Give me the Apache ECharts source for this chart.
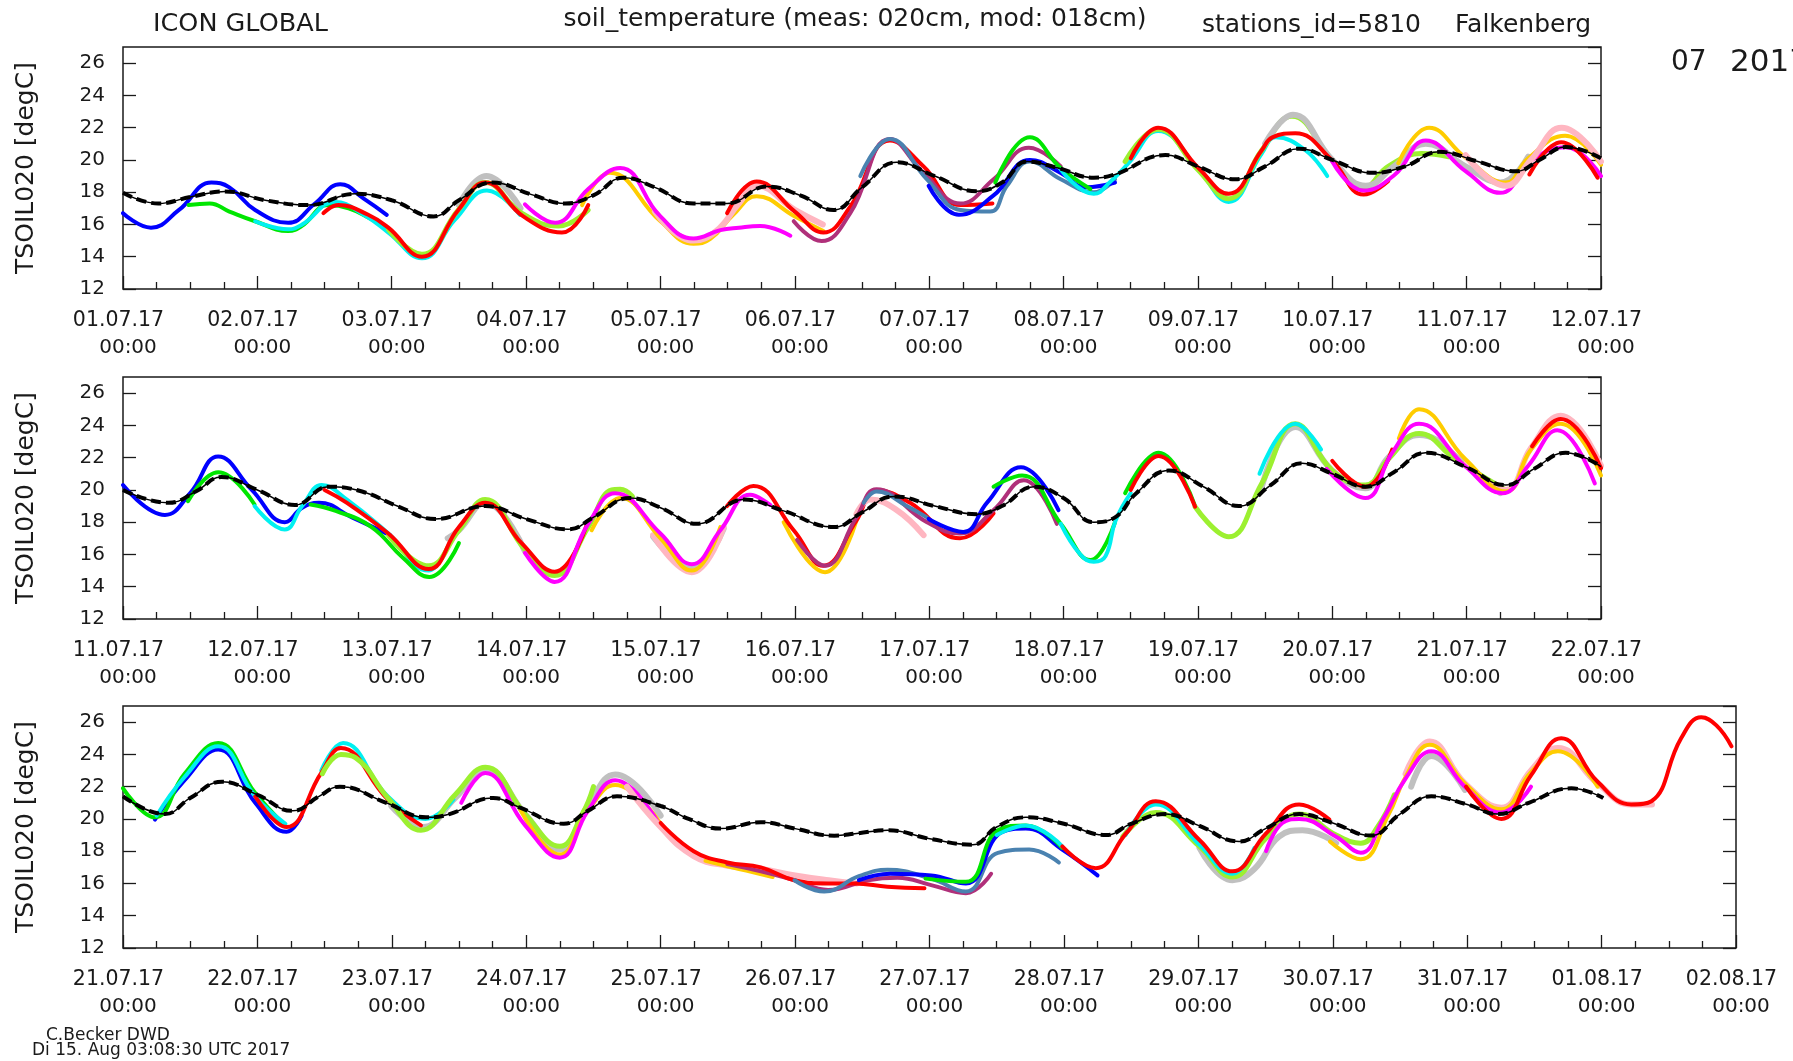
<!DOCTYPE html>
<html><head><meta charset="utf-8">
<script src="https://cdn.jsdelivr.net/npm/echarts@6/dist/echarts.min.js"></script>
<style>html,body{margin:0;padding:0;background:#fff}#c{width:1793px;height:1061px}</style>
</head><body><div id="c"></div>
<script>
// ---------- DATA (hours since panel start, degC) ----------
const p1Ticks = ['01.07.17','02.07.17','03.07.17','04.07.17','05.07.17','06.07.17','07.07.17','08.07.17','09.07.17','10.07.17','11.07.17','12.07.17'];
const p2Ticks = ['11.07.17','12.07.17','13.07.17','14.07.17','15.07.17','16.07.17','17.07.17','18.07.17','19.07.17','20.07.17','21.07.17','22.07.17'];
const p3Ticks = ['21.07.17','22.07.17','23.07.17','24.07.17','25.07.17','26.07.17','27.07.17','28.07.17','29.07.17','30.07.17','31.07.17','01.08.17','02.08.17'];
const yTicks = [12,14,16,18,20,22,24,26];

const p1Obs = [[0,17.96],[6.3,17.3],[12,17.7],[18.2,18.05],[25.4,17.5],[33.1,17.2],[41.5,17.9],[48,17.5],[55.5,16.5],[60,17.5],[65.9,18.6],[73,17.85],[79,17.3],[84,17.8],[89.4,18.9],[95,18.3],[101.9,17.3],[107.9,17.3],[115,18.35],[121,17.8],[126.9,16.9],[132,18.3],[138.2,19.85],[145,19.0],[152.5,18.06],[157,18.6],[161.5,19.9],[167,19.5],[173.4,18.9],[177.2,19.1],[186.2,20.3],[192,19.6],[198.7,18.8],[204,19.6],[210.1,20.7],[216,20.0],[223.2,19.2],[229,19.6],[235.1,20.5],[242,19.9],[248.8,19.3],[253,20.0],[257.7,20.8],[264,20.1]];
const p2Obs = [[0,20.0],[8.1,19.2],[13,19.9],[17.6,20.8],[24,20.0],[30.7,19.07],[36.7,20.2],[42.7,19.9],[49,19.0],[55.8,18.2],[64.7,19.0],[72,18.2],[79.6,17.56],[84,18.3],[90.6,19.5],[96,18.9],[102.5,17.9],[110.9,19.4],[118,18.7],[127,17.7],[132,18.6],[137.7,19.6],[145,19.0],[152.5,18.5],[157,19.0],[162.7,20.2],[168,19.5],[173.4,18.0],[177.2,18.3],[181,19.8],[186.8,21.2],[193,20.2],[199.3,19.0],[205,20.3],[210.6,21.65],[216,21.0],[221.9,20.2],[227,21.1],[232.7,22.3],[240,21.4],[247,20.3],[252,21.3],[257.7,22.3],[264,21.45]];
const p3Obs = [[0,21.4],[7.5,20.3],[12,21.3],[17.7,22.3],[24,21.5],[30.3,20.5],[35,21.4],[38.7,22.0],[47,21.0],[54.1,20.1],[58.3,20.3],[66.1,21.3],[70.9,20.7],[78.7,19.7],[83,20.5],[88.2,21.4],[96,20.8],[101,20.0],[106.7,19.4],[113.9,19.8],[120,19.4],[127,18.96],[131,19.1],[136.5,19.3],[144.3,18.75],[151.7,18.4],[156,19.5],[161.2,20.1],[168,19.7],[175.5,19.0],[180,19.7],[186.2,20.3],[192,19.6],[199.3,18.6],[204,19.4],[210,20.3],[216,19.75],[222.8,18.97],[228,20.3],[233.6,21.4],[240,20.9],[245.5,20.3],[251,21.0],[258.6,21.9],[264.3,21.3]];

const p1Runs = [
  [[0,16.7],[5,15.8],[10,16.9],[15.8,18.6],[19,18.3],[23.6,16.9],[29.5,16.1],[34.3,17.3],[38.8,18.5],[43,17.6],[47.1,16.6]],
  [[11.7,17.2],[15.5,17.3],[19,16.8],[23.6,16.2],[29.5,15.6],[31.9,15.9],[36.7,17.2],[40.3,17.0],[44,16.4],[47.4,15.7]],
  [[23.6,16.2],[29.5,15.7],[32,16.0],[37.9,17.4],[43,16.6],[47.4,15.5],[53.4,13.9],[59.3,16.3],[65,18.1],[70.9,16.6]],
  [[60,17.2],[64.9,19.0],[71,17.0]],
  [[47.4,15.7],[53.4,14.15],[59.9,16.9],[64.7,18.6],[71.2,16.7],[77.8,15.9],[83.1,16.9]],
  [[35.8,16.7],[38.5,17.2],[43.8,16.6],[47.4,15.8],[53.4,14.0],[59.9,16.9],[64.7,18.6],[71.5,16.5],[78.4,15.5],[83.1,17.2]],
  [[82,17.2],[87,19.2],[96,16.2],[101.9,14.8],[104.9,15.1],[109,16.6],[113.2,17.75],[120,16.5],[125.1,15.6]],
  [[95,16.8],[101.9,15.0],[106,15.6],[110,17.3],[113.2,18.4],[120,16.9],[125,16.0]],
  [[71.8,17.25],[77.2,16.1],[83.1,18.2],[88.8,19.5],[96,16.5],[101.9,15.13],[106.7,15.65],[110,15.8],[113.8,15.9],[119.2,15.3]],
  [[107.9,16.7],[113.2,18.66],[120,16.8],[125.1,15.5],[129.9,17.1],[137,21.2],[143,19.6],[149.6,17.2],[155.3,17.3]],
  [[119.8,16.2],[124.8,14.97],[129.9,16.7],[137,21.3],[143,19.2],[149.6,17.3],[155.5,18.8],[161.8,20.75],[167.5,19.6]],
  [[131.7,19.0],[137,21.3],[143.6,18.8],[149.6,16.9],[154.9,16.8],[157.9,18.4],[162,19.9],[167.5,18.8],[173.4,18.0],[177.2,18.8]],
  [[143.9,18.4],[149.3,16.6],[155.5,17.8],[162,20.0],[167.5,19.2],[172,18.3],[177.2,18.6]],
  [[155.8,18.6],[162,21.4],[167.5,19.5],[172.8,18.2]],
  [[167.5,19.4],[173.4,17.9],[176.5,18.7],[179.6,19.8],[184.9,21.8],[192.1,19.4],[197.5,17.4],[203.4,20.4],[205.9,21.4],[211.2,20.6],[215.1,19.0]],
  [[179,19.9],[184.9,21.9],[192,19.4],[197.5,17.6],[203.4,20.6],[208.8,22.7],[216,20.0],[221.6,18.3],[226,19.6],[232,20.4],[236.8,20.2]],
  [[204,21.0],[209,22.8],[216,20.0],[222,18.4],[227,19.6],[232.7,21.0],[239.8,19.6],[246,18.6],[251,20.2]],
  [[180,20.1],[184.9,22.0],[192.1,19.5],[197.5,17.9],[203.4,20.6],[205.3,21.4],[209.4,21.65],[215.9,20.0],[221.6,17.85],[226,18.7]],
  [[216,19.9],[221.6,18.1],[227.2,19.1],[232.7,21.2],[239.8,19.3],[246,17.96],[251.7,20.0],[257.7,20.78],[264,19.0]],
  [[227.8,19.8],[233.3,22.0],[239.8,20.15],[247,18.6],[251,20.1],[257.6,21.5],[264,19.7]],
  [[239.8,20.3],[247,18.4],[251.5,20.0],[257,22.0],[264,19.9]],
  [[251.2,19.1],[256.9,21.1],[263.4,18.9]]
];
const p1Colors = ['blue','green','cyan','gray','lime','red','gold','pink','magenta','red','purple','steel','blue','green','cyan','lime','gray','red','magenta','gold','pink','red'];

const p2Runs = [
  [[0,20.3],[7.5,18.45],[12,19.8],[17,22.07],[23,20.0],[28.9,18.0],[32,18.9],[35,19.2],[40.9,18.3],[47.7,17.2]],
  [[11.6,19.3],[17,21.1],[23.5,19.1]],
  [[23.5,19.0],[28.9,17.55],[32,19.0],[35.5,20.3],[40,19.4],[47.4,17.3],[54.6,15.0],[56,15.3]],
  [[33.5,19.1],[38,18.7],[44.4,17.7],[50,15.8],[54.7,14.6],[60,16.7]],
  [[58,17.0],[60,17.5],[64.7,19.2],[71.8,16.2]],
  [[47.4,17.2],[54.6,15.3],[60,17.5],[64.7,19.4],[71.8,16.3],[77.1,14.7],[83.1,17.7],[87.3,20.0],[88.8,20.04],[91,19.6]],
  [[36,20.0],[40,19.2],[47.4,17.3],[54.6,15.1],[60,17.7],[64.7,19.2],[71.2,16.7],[77.1,14.93],[82.9,17.9]],
  [[94.7,17.1],[101.6,15.2],[107.3,17.6]],
  [[94.7,17.2],[101.6,14.9],[107.3,17.7]],
  [[83.7,17.5],[88.9,19.5],[96,17.0],[101.6,15.0],[106.7,17.7]],
  [[71.8,16.1],[77.1,14.3],[83.1,17.9],[87.9,19.8],[96,17.3],[101.6,15.4],[106.7,17.5],[112,19.7],[115.6,19.07]],
  [[118,18.0],[125.4,14.9],[131,18.1]],
  [[107.9,19.0],[112.6,20.25],[119.8,17.5],[125.1,15.3],[131,18.1],[134.6,20.0],[140.6,19.2],[149.5,17.0],[155.5,18.55]],
  [[131,18.5],[133.5,19.4],[138,18.8],[143,17.2]],
  [[120.4,16.9],[125.4,15.3],[131,18.3],[134.6,20.04],[143.6,18.0],[149.5,17.3],[155.5,18.75],[160.9,20.6],[166.8,17.9]],
  [[132.3,19.2],[134.6,19.9],[140,19.0],[143.6,18.3]],
  [[143.9,18.2],[150.1,17.4],[154.3,19.2],[160.4,21.4],[167.1,18.75]],
  [[155.5,20.2],[160.6,20.9],[167.5,17.9],[172.8,15.65],[177.2,18.0]],
  [[167.5,17.9],[171,16.0],[173.4,15.55],[175.5,15.9],[177.3,18.1],[180,19.8]],
  [[179,19.8],[185,22.3],[191.5,19.0]],
  [[203.4,20.2],[209.4,23.9],[216,21.2],[221.9,20.1],[226,22],[231.5,23.4],[239.8,21.6],[246,19.8]],
  [[191.5,18.96],[197.5,17.1],[203.4,20.4],[209.4,24.1],[216,21.2],[221.9,20.3],[226,21.9],[231.5,23.5],[238,21.9],[247,20.0]],
  [[180,20.0],[185,22.1],[191.5,18.96]],
  [[203,21.0],[209.4,24.1],[214,22.5]],
  [[216,21.8],[221.9,20.2],[226.7,22.5]],
  [[239.8,21.6],[247,20.0],[251.5,22.6],[256.8,24.6],[264,21.5]],
  [[227.9,23.2],[231.5,25.0],[239.8,21.9],[247,19.9],[251.5,22.5],[256.8,24.1],[264,20.9]],
  [[215,21.3],[221.9,19.5],[226.7,22.3],[231.5,24.1],[239.8,21.45],[246.4,19.8],[251,21.5],[256.2,23.7],[262.9,20.4]],
  [[251.7,22.7],[256.8,24.4],[264,21.35]]
];
const p2Colors = ['blue','green','cyan','green','gray','lime','red','gray','pink','gold','magenta','gold','red','pink','purple','steel','blue','green','cyan','green','gray','lime','red','cyan','red','pink','gold','magenta','red'];

const p3Runs = [
  [[5.7,19.96],[11,22.4],[17,24.3],[23.6,21.0],[29.2,19.2],[31.9,20.2]],
  [[0,21.9],[5.7,20.1],[11,22.8],[17,24.7],[23.6,21.6],[28.9,19.6]],
  [[6,20.2],[11,22.6],[17,24.5],[23.6,21.4],[29,19.7]],
  [[47.9,20.8],[53.5,19.5],[59.3,21.3],[64.7,23.1],[71.8,20.3],[78,18.1],[83,20.8],[87.9,22.75],[96,20.2]],
  [[35.4,23.0],[39.3,24.7],[47.3,21.4],[54,20.0],[59,21.2]],
  [[23.6,21.4],[29.2,19.5],[35.4,22.85],[38.9,24.4],[47.3,21.2],[53.2,19.6]],
  [[35.6,22.8],[38.9,24.0],[41.5,23.8],[47.3,21.3],[53.2,19.3],[59.3,21.5],[64.7,23.2],[71.8,20.3],[78,18.3],[82,20.3],[84,22.0]],
  [[70.9,20.6],[78,17.8],[83,20.5],[87.9,22.1],[96,19.7]],
  [[60.4,21.0],[64.7,22.85],[71.8,19.6],[78,17.6],[83,20.5],[87.9,22.4],[96,19.5]],
  [[90,22.0],[96,19.5],[101.9,17.7],[107.9,17.1],[113.9,16.9],[120,16.5],[126,16.2],[131,16.0]],
  [[104,17.4],[110,16.9],[116,16.4]],
  [[107.9,17.2],[113.9,16.75],[119.9,16.2],[125.9,15.6],[133,16.2],[138.3,16.35],[144.3,15.9],[150.5,15.4],[155,16.6]],
  [[96,19.75],[101.9,18.0],[107.9,17.3],[113.9,17.0],[119.9,16.2],[125.9,16.0],[130.6,16.0],[136.5,15.8],[143.1,15.7]],
  [[119.9,16.2],[125.2,15.5],[131.4,16.45],[136.5,16.85],[144.3,16.3],[150.5,15.5],[156.2,17.9],[161.8,18.1],[167.1,17.3]],
  [[131.4,16.2],[137,16.6],[144.3,16.5],[150.5,16.0],[157,19.2],[161.2,19.4],[167.7,18.1],[174,16.5]],
  [[143.3,16.3],[150.5,16.1],[156.2,19.3],[161.2,19.6],[167.7,18.2]],
  [[156,19.0],[161.2,19.6],[167.7,18.3]],
  [[192.2,18.2],[198.1,16.2],[202,16.9],[206.4,18.9],[210.6,19.3],[216.6,18.5]],
  [[178.5,18.9],[184.4,20.4],[192.2,18.3],[198.1,16.4],[204.1,18.8],[210,20.3],[216.6,19.0],[221,18.5],[224,19.5],[227,21.5]],
  [[179,19.0],[184.4,20.9],[192.2,18.4],[198.1,16.6],[202,18.2]],
  [[167.7,18.3],[173.7,16.95],[179.1,19.1],[184.4,21.1],[192.2,18.7],[198.1,16.75],[204.1,19.1],[210,20.9],[215.4,19.96]],
  [[229,22.8],[233.3,24.8],[239.6,22.2],[246.1,20.7],[251.4,23],[256.2,24.4],[263.3,22.2],[269.3,20.9],[273,20.9]],
  [[230,22.0],[233.6,23.9],[239.6,21.8]],
  [[215.5,18.6],[221,17.5],[226,20.3],[229,22.6],[233.3,24.6],[239.6,22.2],[246.1,20.6],[251.4,22.9],[256.2,24.2],[263.3,22.0]],
  [[204.1,18.0],[207,19.75],[210,20.0],[216.6,18.9],[221,17.9],[225,20.0],[229,22.5],[233.6,24.2],[239.6,22.0],[246,20.4],[251.4,22.0]],
  [[239.8,22.0],[246.1,20.0],[251.4,22.7],[256.8,25.0],[263.3,22.3],[269.3,20.9],[272.9,21.1],[278.2,25.0],[281.8,26.3],[284.5,25.8],[287.2,24.5]]
];
const p3Colors = ['blue','green','cyan','gray','cyan','red','lime','gold','magenta','pink','gold','purple','red','steel','blue','green','cyan','gray','lime','cyan','red','pink','gray','gold','magenta','red'];

// ---------- STYLE ----------
const FONT = 'DejaVu Sans';
const INK = '#1a1a1a';
const COLOR = {blue:'#0000ff', green:'#00e600', cyan:'#00f0f0', red:'#ff0000', lime:'#9cf030', gray:'#c0c0c0', magenta:'#ff00ff', gold:'#ffcc00', pink:'#ffb6c1', purple:'#b0307a', steel:'#4a82b0'};
const WIDTH = {gray:6, pink:6, lime:5};

const panels = [
  {ticks:p1Ticks, runs:p1Runs, colors:p1Colors, obs:p1Obs, top:47, width:1478},
  {ticks:p2Ticks, runs:p2Runs, colors:p2Colors, obs:p2Obs, top:377, width:1478},
  {ticks:p3Ticks, runs:p3Runs, colors:p3Colors, obs:p3Obs, top:706, width:1613}
];

const grid = [], xAxis = [], yAxis = [], series = [], graphic = [];
panels.forEach((p, i) => {
  grid.push({left:123, top:p.top, width:p.width, height:242, show:true, borderColor:INK, borderWidth:1.5, backgroundColor:'transparent'});
  xAxis.push({
    type:'value', gridIndex:i, min:0, max:(p.ticks.length-1)*24, interval:24,
    axisLine:{show:false}, splitLine:{show:false},
    axisTick:{inside:true, length:13, lineStyle:{color:INK, width:1.3}},
    minorTick:{show:true, splitNumber:4, length:7, lineStyle:{color:INK, width:1.3}},
    axisLabel:{fontFamily:FONT, fontSize:20, color:INK, lineHeight:27, margin:18,
      formatter:(v)=> '{d|' + p.ticks[Math.round(v/24)] + '}\n{t|00:00}',
      rich:{
        d:{fontFamily:FONT, fontSize:20.5, color:INK, lineHeight:27, padding:[0,9,0,0]},
        t:{fontFamily:FONT, fontSize:20, color:INK, lineHeight:27, padding:[0,0,0,10]}
      }}
  });
  yAxis.push({
    type:'value', gridIndex:i, min:yTicks[0], max:27, interval:2,
    axisLine:{show:false}, splitLine:{show:false},
    axisTick:{inside:true, length:13, lineStyle:{color:INK, width:1.3}},
    axisLabel:{fontFamily:FONT, fontSize:20, color:INK, margin:18, showMaxLabel:false,
      formatter:(v)=> yTicks.indexOf(v) >= 0 ? String(v) : ''}
  });
  yAxis.push({
    type:'value', gridIndex:i, position:'right', min:yTicks[0], max:27, interval:2,
    axisLine:{show:false}, splitLine:{show:false},
    axisTick:{inside:true, length:13, lineStyle:{color:INK, width:1.3}},
    axisLabel:{show:false}
  });
  p.runs.forEach((run, r) => {
    const c = p.colors[r];
    series.push({type:'line', xAxisIndex:i, yAxisIndex:2*i, data:run, smooth:0.45,
      showSymbol:false, symbol:'none', silent:true, z:2,
      lineStyle:{color:COLOR[c], width:WIDTH[c] || 4, cap:'round', join:'round'}});
  });
  series.push({type:'line', xAxisIndex:i, yAxisIndex:2*i, data:p.obs, smooth:0.45,
    showSymbol:false, symbol:'none', silent:true, z:3, lineStyle:{color:'#000', width:1.5}});
  series.push({type:'line', xAxisIndex:i, yAxisIndex:2*i, data:p.obs, smooth:0.45,
    showSymbol:false, symbol:'none', silent:true, z:4, lineStyle:{color:'#000', width:4, type:[10,5]}});
  graphic.push({type:'text', x:26, y:p.top+121, rotation:Math.PI/2,
    style:{text:'TSOIL020 [degC]', font:'25px "DejaVu Sans"', fill:INK,
      textAlign:'center', textVerticalAlign:'middle', align:'center', verticalAlign:'middle'}});
});

const hdr = (text, x, y, size, align) => ({type:'text', x:x, y:y,
  style:{text:text, font:size+'px "DejaVu Sans"', fill:INK, textAlign:align||'left', textVerticalAlign:'middle', align:align||'left', verticalAlign:'middle'}});
graphic.push(hdr('ICON GLOBAL', 153, 24, 25.5));
graphic.push(hdr('soil_temperature (meas: 020cm, mod: 018cm)', 855, 19, 25, 'center'));
graphic.push(hdr('stations_id=5810', 1202, 25, 25));
graphic.push(hdr('Falkenberg', 1455, 25, 25));
graphic.push(hdr('07', 1671, 63, 28));
graphic.push(hdr('2017', 1730, 63, 31));
graphic.push(hdr('C.Becker DWD', 46, 1036, 17));
graphic.push(hdr('Di 15. Aug 03:08:30 UTC 2017', 32, 1051, 17));

const chart = echarts.init(document.getElementById('c'), null, {renderer:'canvas'});
chart.setOption({animation:false, backgroundColor:'#fff', grid, xAxis, yAxis, series, graphic});
</script>
</body></html>
